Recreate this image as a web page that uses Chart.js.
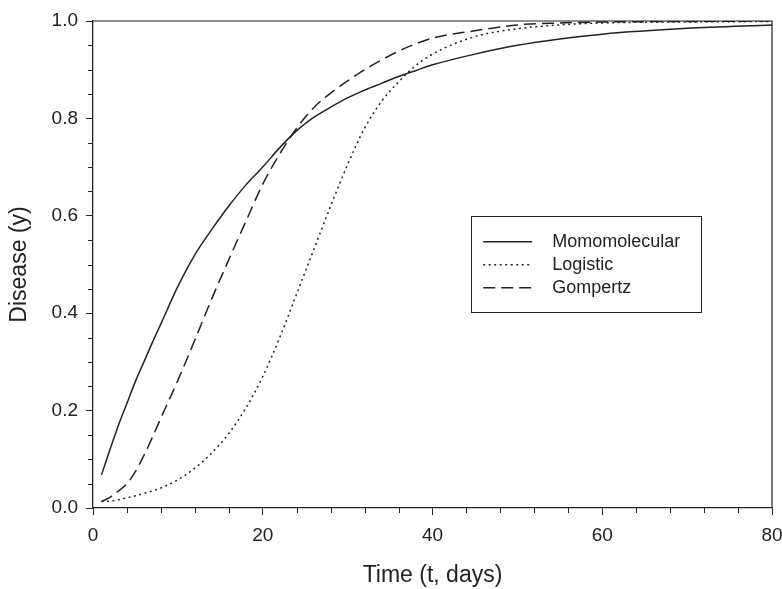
<!DOCTYPE html>
<html>
<head>
<meta charset="utf-8">
<script src="https://cdn.jsdelivr.net/npm/chart.js@4/dist/chart.umd.min.js"></script>
<style>
  html, body { margin: 0; padding: 0; background: #fff; }
  #wrap { width: 782px; height: 589px; }
</style>
</head>
<body>
<div id="wrap"><canvas id="chart" width="782" height="589"></canvas></div>
<script>
// values
const days = [1, 2, 3, 4, 5, 6, 7, 8, 10, 12, 14, 16, 18, 20, 22, 24, 26, 28, 30, 32, 34, 36, 38, 40, 45, 50, 55, 60, 70, 80];
const monomolecular = [0.068, 0.12, 0.17, 0.215, 0.26, 0.3, 0.34, 0.378, 0.455, 0.52, 0.572, 0.62, 0.663, 0.7, 0.74, 0.775, 0.802, 0.823, 0.842, 0.858, 0.872, 0.886, 0.898, 0.91, 0.932, 0.95, 0.963, 0.973, 0.985, 0.992];
const logistic = [0.014, 0.014, 0.017, 0.021, 0.025, 0.03, 0.035, 0.041, 0.058, 0.082, 0.113, 0.153, 0.205, 0.27, 0.35, 0.44, 0.53, 0.62, 0.705, 0.78, 0.835, 0.875, 0.908, 0.932, 0.968, 0.984, 0.992, 0.996, 0.998, 0.999];
const gompertz = [0.013, 0.022, 0.035, 0.05, 0.075, 0.108, 0.145, 0.185, 0.262, 0.345, 0.43, 0.51, 0.588, 0.665, 0.727, 0.78, 0.822, 0.852, 0.877, 0.9, 0.92, 0.938, 0.953, 0.965, 0.98, 0.992, 0.996, 0.998, 0.999, 1.0];
const seriesNames = ["Momomolecular", "Logistic", "Gompertz"];
const xTicks = [0, 20, 40, 60, 80];
const yTicks = [0, 0.2, 0.4, 0.6, 0.8, 1.0];

const ink = "#222";
const fontFamily = "'Liberation Sans', Arial, sans-serif";

function toPoints(values) {
  return days.map((d, i) => ({ x: d, y: values[i] }));
}

function makeSet(label, values, dash) {
  return {
    label: label,
    data: toPoints(values),
    showLine: true,
    borderColor: ink,
    borderWidth: 1.5,
    borderDash: dash,
    pointRadius: 0,
    cubicInterpolationMode: "monotone",
    fill: false,
  };
}

// minor ticks, top/right frame and the boxed legend
const extras = {
  id: "extras",
  afterDraw(chart) {
    const ctx = chart.ctx;
    const area = chart.chartArea;
    const xs = chart.scales.x;
    const ys = chart.scales.y;
    ctx.save();
    ctx.strokeStyle = ink;
    ctx.lineWidth = 1.2;

    // frame
    ctx.beginPath();
    ctx.moveTo(area.left, area.top);
    ctx.lineTo(area.right, area.top);
    ctx.lineTo(area.right, area.bottom);
    ctx.stroke();

    // minor ticks
    ctx.lineWidth = 1;
    ctx.beginPath();
    for (let v = 0; v <= 80; v += 4) {
      if (v % 20 === 0) continue;
      const px = Math.round(xs.getPixelForValue(v)) + 0.5;
      ctx.moveTo(px, area.bottom);
      ctx.lineTo(px, area.bottom + 5);
    }
    for (let k = 0; k <= 20; k++) {
      if (k % 4 === 0) continue;
      const py = Math.round(ys.getPixelForValue(k * 0.05)) + 0.5;
      ctx.moveTo(area.left, py);
      ctx.lineTo(area.left - 5, py);
    }
    ctx.stroke();

    // legend box
    const w = area.right - area.left;
    const h = area.bottom - area.top;
    const bx = area.left + w * 0.557;
    const by = area.top + h * 0.4;
    const bw = w * 0.339;
    const bh = h * 0.197;
    ctx.lineWidth = 1;
    ctx.strokeRect(Math.round(bx) + 0.5, Math.round(by) + 0.5, Math.round(bw), Math.round(bh));

    ctx.font = "18px " + fontFamily;
    ctx.fillStyle = ink;
    ctx.textBaseline = "middle";
    chart.data.datasets.forEach((ds, i) => {
      const rowY = by + 26 + i * 23;
      ctx.beginPath();
      ctx.setLineDash(ds.borderDash || []);
      ctx.lineWidth = 1.5;
      ctx.moveTo(bx + 12, rowY);
      ctx.lineTo(bx + 61, rowY);
      ctx.stroke();
      ctx.setLineDash([]);
      ctx.fillText(ds.label, bx + 81, rowY);
    });
    ctx.restore();
  },
};

const ctx = document.getElementById("chart").getContext("2d");
new Chart(ctx, {
  type: "scatter",
  data: {
    datasets: [
      makeSet(seriesNames[0], monomolecular, []),
      makeSet(seriesNames[1], logistic, [2, 3.5]),
      makeSet(seriesNames[2], gompertz, [12, 6]),
    ],
  },
  options: {
    responsive: false,
    animation: false,
    layout: { padding: { left: 0, right: 10, top: 21, bottom: 0 } },
    plugins: {
      legend: { display: false },
      tooltip: { enabled: false },
    },
    scales: {
      x: {
        type: "linear",
        min: 0,
        max: 80,
        afterBuildTicks: (s) => { s.ticks = xTicks.map((v) => ({ value: v })); },
        afterFit: (s) => {
          s.height = 81;
          s.paddingLeft = 0;
          s.paddingRight = 0;
        },
        border: { color: ink, width: 1.3 },
        grid: { drawOnChartArea: false, tickLength: 7, tickColor: ink, tickWidth: 1 },
        ticks: { color: ink, padding: 9, font: { family: fontFamily, size: 19 }, maxRotation: 0 },
        title: {
          display: true,
          text: "Time (t, days)",
          color: ink,
          font: { family: fontFamily, size: 23 },
          padding: { top: 0, bottom: 0 },
        },
      },
      y: {
        type: "linear",
        min: 0,
        max: 1,
        afterBuildTicks: (s) => { s.ticks = yTicks.map((v) => ({ value: v })); },
        afterFit: (s) => {
          s.width = 93;
          s.paddingTop = 0;
          s.paddingBottom = 0;
        },
        border: { color: ink, width: 1.3 },
        grid: { drawOnChartArea: false, tickLength: 7, tickColor: ink, tickWidth: 1 },
        ticks: {
          color: ink,
          padding: 8,
          font: { family: fontFamily, size: 19 },
          callback: (v) => Number(v).toFixed(1),
        },
        title: {
          display: true,
          text: "Disease (y)",
          color: ink,
          font: { family: fontFamily, size: 23 },
          padding: { top: 6, bottom: 0 },
        },
      },
    },
  },
  plugins: [extras],
});
</script>
</body>
</html>
